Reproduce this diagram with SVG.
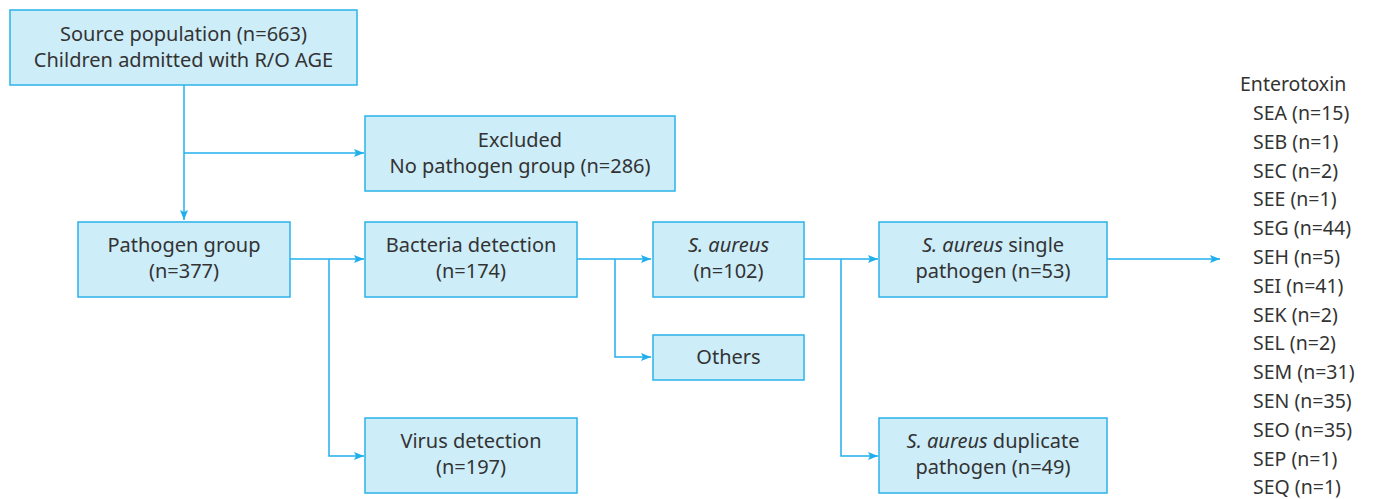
<svg xmlns="http://www.w3.org/2000/svg" width="1375" height="499" viewBox="0 0 1375 499">
<defs>
<style>
.box{fill:#cdedf9;stroke:#2bb3ea;stroke-width:1.5}
.t{font-family:"Noto Sans","Liberation Sans",sans-serif;font-size:20px;fill:#333;text-anchor:middle}
.e{font-family:"Noto Sans","Liberation Sans",sans-serif;font-size:19.5px;fill:#333}
.c{fill:none;stroke:#1fb0ec;stroke-width:1.5}
</style>
<marker id="ah" viewBox="0 0 10 10" refX="10" refY="5" markerWidth="10" markerHeight="10" markerUnits="userSpaceOnUse" orient="auto">
<path d="M0,1 L10,5 L0,9 L2,5 Z" fill="#1fb0ec"/>
</marker>
</defs>
<rect width="1375" height="499" fill="#fff"/>
<g id="connectors">
<path class="c" d="M184,85 V220" marker-end="url(#ah)"/>
<path class="c" d="M184,153 H364" marker-end="url(#ah)"/>
<path class="c" d="M290,259 H364" marker-end="url(#ah)"/>
<path class="c" d="M329,259 V456 H364" marker-end="url(#ah)"/>
<path class="c" d="M577,259 H651" marker-end="url(#ah)"/>
<path class="c" d="M615,259 V357 H651" marker-end="url(#ah)"/>
<path class="c" d="M804,259 H878" marker-end="url(#ah)"/>
<path class="c" d="M841,259 V456 H878" marker-end="url(#ah)"/>
<path class="c" d="M1107,259 H1220" marker-end="url(#ah)"/>
</g>
<g id="source"><rect class="box" x="10" y="10" width="347" height="75"/>
<text class="t" x="183.5" y="41">Source population (n=663)</text>
<text class="t" x="183.5" y="67">Children admitted with R/O AGE</text></g>
<g id="excluded"><rect class="box" x="365" y="116" width="310" height="75"/>
<text class="t" x="520" y="147">Excluded</text>
<text class="t" x="520" y="173">No pathogen group (n=286)</text></g>
<g id="pathogen"><rect class="box" x="78" y="222" width="212" height="75"/>
<text class="t" x="184" y="252">Pathogen group</text>
<text class="t" x="184" y="278">(n=377)</text></g>
<g id="bacteria"><rect class="box" x="365" y="222" width="212" height="75"/>
<text class="t" x="471" y="252">Bacteria detection</text>
<text class="t" x="471" y="278">(n=174)</text></g>
<g id="saureus"><rect class="box" x="653" y="222" width="151" height="75"/>
<text class="t" x="728.5" y="252" font-style="italic">S. aureus</text>
<text class="t" x="728.5" y="278">(n=102)</text></g>
<g id="others"><rect class="box" x="653" y="335" width="151" height="45"/>
<text class="t" x="728.5" y="364">Others</text></g>
<g id="virus"><rect class="box" x="365" y="418" width="212" height="75"/>
<text class="t" x="471" y="448">Virus detection</text>
<text class="t" x="471" y="474">(n=197)</text></g>
<g id="single"><rect class="box" x="879" y="222" width="228" height="75"/>
<text class="t" x="993" y="252"><tspan font-style="italic">S. aureus</tspan> single</text>
<text class="t" x="993" y="278">pathogen (n=53)</text></g>
<g id="duplicate"><rect class="box" x="879" y="418" width="228" height="75"/>
<text class="t" x="993" y="448"><tspan font-style="italic">S. aureus</tspan> duplicate</text>
<text class="t" x="993" y="474">pathogen (n=49)</text></g>
<g id="enterotoxin">
<text class="e" x="1240" y="91">Enterotoxin</text>
<text class="e" x="1253" y="120">SEA (n=15)</text>
<text class="e" x="1253" y="149">SEB (n=1)</text>
<text class="e" x="1253" y="178">SEC (n=2)</text>
<text class="e" x="1253" y="206">SEE (n=1)</text>
<text class="e" x="1253" y="235">SEG (n=44)</text>
<text class="e" x="1253" y="264">SEH (n=5)</text>
<text class="e" x="1253" y="293">SEI (n=41)</text>
<text class="e" x="1253" y="322">SEK (n=2)</text>
<text class="e" x="1253" y="350">SEL (n=2)</text>
<text class="e" x="1253" y="379">SEM (n=31)</text>
<text class="e" x="1253" y="408">SEN (n=35)</text>
<text class="e" x="1253" y="437">SEO (n=35)</text>
<text class="e" x="1253" y="466">SEP (n=1)</text>
<text class="e" x="1253" y="494">SEQ (n=1)</text>
</g>
</svg>
